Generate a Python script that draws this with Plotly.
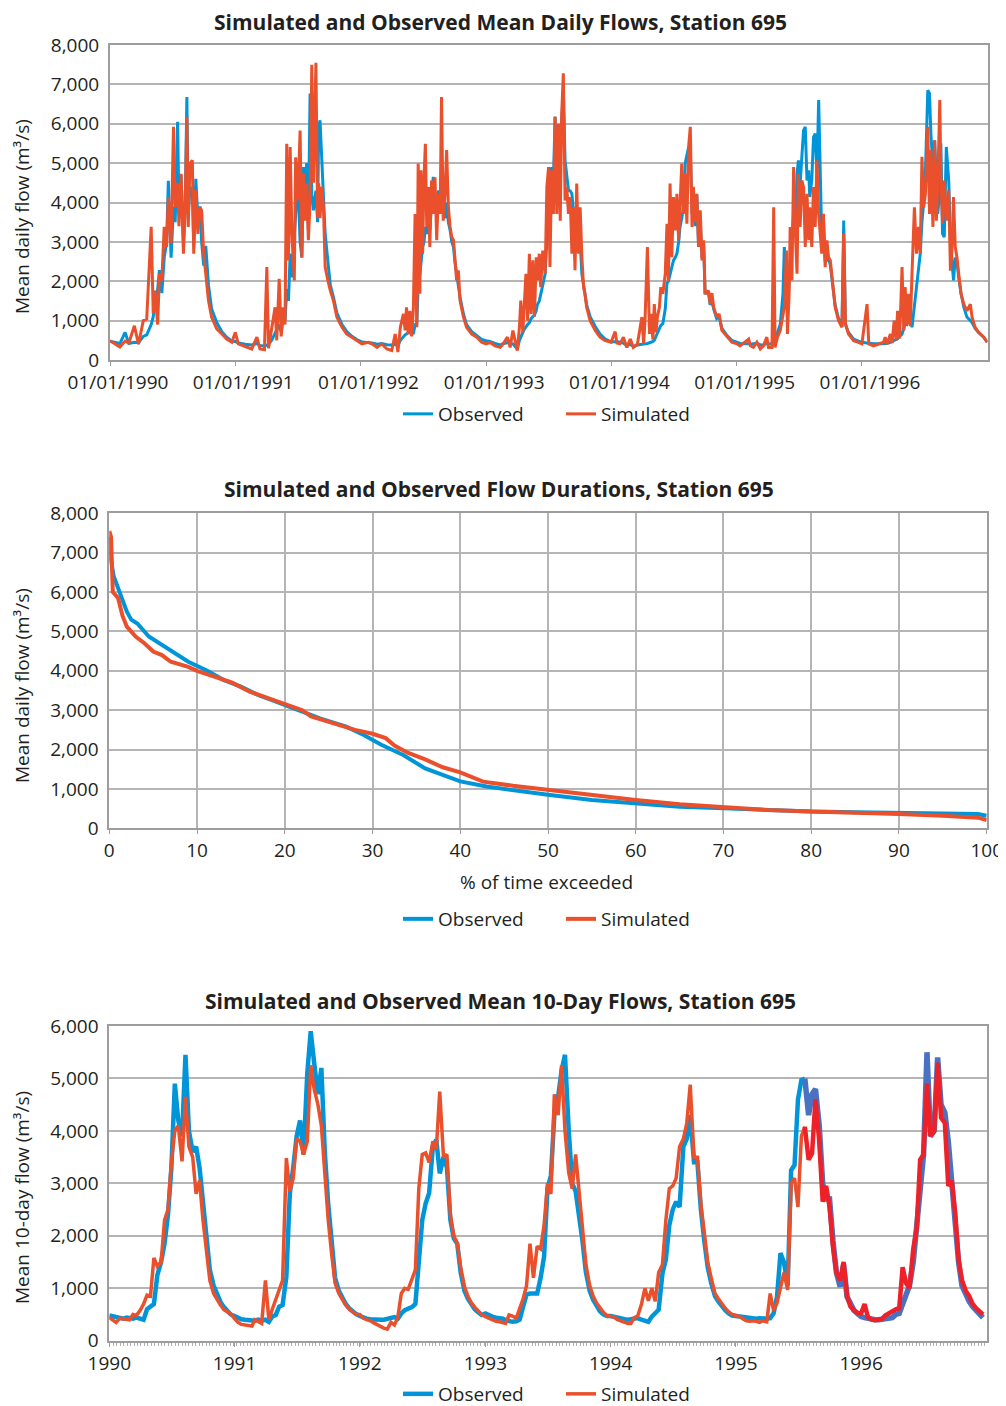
import pandas as pd
import plotly.graph_objects as go

OFF = 8                     # the page body margin shifts the figure by 8 px
W, H = 1006 - OFF, 1406 - OFF
BLUE = "#0095D9"
ORANGE = "#E9502B"
DARKBLUE = "#4A72C0"
RED = "#EE2128"
GRID = "#b5b5b5"
FRAME = "#9d9d9d"
TXT = "#231f20"
FONT = "Open Sans"

# ---------------- Panel 1: mean daily flows (day offset from 1990-01-01) ----------------
daily_day = [
    0, 15, 29, 44, 55, 71, 83, 97, 107, 120, 126, 131, 139, 144, 151, 158, 165, 170, 178, 185,
    190, 197, 201, 207, 214, 219, 224, 228, 233, 240, 244, 250, 256, 262, 267, 273, 279, 287, 296, 311,
    326, 340, 355,
    365, 374, 394, 413, 428, 437, 450, 457, 462, 471, 481, 486, 493, 499, 505, 510, 515, 520, 525, 530,
    537, 541, 547, 554, 559, 564, 569, 573, 578, 583, 588, 593, 600, 605, 608, 612, 617, 622, 627, 635,
    642, 651, 661, 676, 690, 705, 719,
    734, 753, 763, 778, 792, 807, 821, 831, 839, 846, 855, 860, 864, 869, 874, 879, 884, 889, 894, 898,
    903, 906, 911, 915, 919, 923, 928, 932, 937, 942, 947, 952, 957, 962, 966, 971, 976, 981, 986, 991,
    996, 1001, 1005, 1010, 1015, 1020, 1030, 1039, 1054, 1069, 1083,
    1096, 1107, 1122, 1137, 1146, 1158, 1166, 1174, 1180, 1187, 1193, 1197, 1203, 1207, 1212, 1217, 1222,
    1227, 1232, 1237, 1242, 1245, 1251, 1255, 1261, 1268, 1273, 1278, 1282, 1287, 1292, 1297, 1302, 1307,
    1312, 1316, 1321, 1326, 1331, 1336, 1341, 1346, 1350, 1355, 1360, 1365, 1370, 1375, 1380, 1384, 1389,
    1399, 1414, 1428, 1443,
    1460, 1472, 1477, 1486, 1496, 1506, 1516, 1525, 1537, 1550, 1555, 1559, 1566, 1572, 1576, 1582, 1586,
    1591, 1595, 1601, 1605, 1611, 1618, 1623, 1627, 1632, 1637, 1642, 1647, 1652, 1657, 1661, 1666, 1671,
    1676, 1681, 1686, 1691, 1696, 1700, 1705, 1710, 1715, 1720, 1725, 1730, 1734, 1744, 1749, 1754, 1759,
    1768, 1775, 1783, 1798, 1812,
    1827, 1836, 1861, 1866, 1875, 1885, 1895, 1904, 1914, 1919, 1929, 1934, 1938, 1945, 1953, 1961, 1965,
    1971, 1974, 1979, 1982, 1987, 1992, 1997, 2002, 2006, 2011, 2016, 2021, 2026, 2031, 2036, 2039, 2045,
    2050, 2055, 2060, 2065, 2070, 2074, 2079, 2084, 2089, 2094, 2099, 2107, 2113, 2123, 2133, 2138, 2143,
    2152, 2167, 2181,
    2191, 2206, 2211, 2225, 2240, 2254, 2259, 2264, 2274, 2279, 2285, 2291, 2295, 2301, 2308, 2313, 2317,
    2322, 2327, 2332, 2337, 2344, 2350, 2356, 2361, 2366, 2371, 2376, 2383, 2388, 2392, 2398, 2403, 2408,
    2412, 2418, 2421, 2426, 2431, 2437, 2444, 2449, 2453, 2458, 2463, 2468, 2473, 2480, 2488, 2497, 2507,
    2512, 2521, 2531, 2546, 2556,
]
daily_obs = [
    480, 450, 420, 700, 420, 450, 440, 600, 640, 900, 1100, 1500, 1800, 2280, 1700, 2600, 3000, 4550, 2600, 3900,
    3500, 6050, 3800, 4700, 3000, 3800, 6680, 3700, 4400, 4200, 2900, 4600, 3600, 3900, 3000, 2400, 2900, 1900, 1300, 950,
    720, 580, 480,
    470, 430, 400, 380, 420, 370, 350, 380, 400, 500, 700, 800, 900, 700, 1100, 1000, 1800, 1500, 2700, 2100,
    3100, 3500, 4600, 3000, 2600, 4900, 3600, 5000, 3300, 6770, 4200, 3800, 4300, 3500, 5900, 6090, 5000, 4000, 3200, 2500,
    1900, 1600, 1200, 900, 720, 600, 520,
    460, 450, 430, 400, 420, 390, 380, 400, 370, 500, 600, 640, 660, 700, 700, 720, 660, 900, 920, 1900,
    2190, 2500, 2870, 3000, 3380, 3200, 3630, 3300, 4000, 4650, 4050, 3800, 4300, 4200, 4000, 4220, 3600, 4000, 3500, 3300,
    3000, 2870, 2500, 2190, 1900, 1590, 1170, 900, 720, 620, 520,
    490, 470, 420, 380, 420, 440, 420, 410, 350, 280, 500, 600, 700, 780, 850, 900, 950,
    1050, 1100, 1150, 1250, 1400, 1500, 1700, 1900, 2190, 3040, 4140, 4500, 4900, 4500, 6180, 4310, 5000,
    5330, 6000, 6850, 5070, 4700, 4310, 4300, 4220, 3800, 3600, 3380, 3200, 3040, 2190, 1900, 1700, 1400,
    1100, 850, 660, 530,
    460, 480, 470, 450, 430, 360, 400, 340, 380, 400, 400, 410, 420, 430, 450, 470, 500,
    600, 700, 800, 880, 920, 1300, 1950, 2000, 2190, 2400, 2530, 2600, 2700, 3000, 3380, 3600, 3880,
    4990, 5240, 5400, 5300, 3700, 4000, 3400, 4200, 2900, 3500, 2600, 2900, 1700, 1700, 1400, 1500, 1300,
    1050, 1100, 800, 620, 500,
    450, 420, 410, 400, 410, 420, 390, 380, 420, 400, 420, 430, 450, 700, 900, 1680, 2870,
    1950, 1300, 2000, 2200, 3040, 3710, 3300, 4730, 5070, 4480, 5160, 5830, 5920, 4560, 4820, 4140, 4560,
    5660, 5750, 4730, 6600, 4560, 3100, 3500, 2500, 2530, 2600, 2400, 1900, 1400, 1050, 850, 3540, 900,
    700, 530, 480,
    450, 430, 420, 410, 410, 410, 420, 420, 450, 470, 500, 520, 540, 600, 660, 800, 920,
    900, 1000, 1100, 830, 1340, 1800, 2190, 2700, 3500, 4000, 4730, 6850, 6770, 5750, 4900, 5580, 4560,
    3710, 4300, 5500, 3210, 3120, 5410, 4560, 3000, 2610, 2020, 2600, 2500, 2100, 1680, 1340, 1090, 1000,
    950, 800, 700, 580, 450,
]
daily_sim = [
    490, 410, 330, 480, 430, 870, 400, 1000, 1040, 3380, 1170, 1760, 900, 2190, 2020, 3380, 2870, 4140, 2960, 5920,
    3880, 4500, 3400, 4730, 2700, 3880, 6180, 3380, 4990, 5070, 2700, 4310, 3200, 3880, 3800, 2700, 2190, 1510, 1090, 790,
    660, 530, 450,
    700, 410, 340, 280, 580, 280, 260, 2360, 300, 750, 1340, 500, 2060, 600, 1340, 900, 5490, 2530, 5410, 3210,
    2020, 5150, 4050, 5830, 2610, 4730, 3540, 4490, 3040, 4000, 7500, 4500, 7550, 3600, 4490, 3600, 4400, 3880, 2360, 2020,
    1760, 1510, 1090, 830, 660, 580, 490,
    410, 450, 410, 320, 410, 280, 240, 660, 200, 830, 1170, 750, 1340, 650, 1250, 600, 1300, 3710, 830, 4990,
    1680, 4820, 2700, 4640, 5490, 3380, 4390, 2870, 4560, 3710, 4640, 3040, 4220, 3710, 6680, 3540, 4200, 5330, 3880, 3380,
    3120, 3040, 2610, 2020, 2280, 1510, 1090, 830, 660, 580, 450,
    410, 450, 360, 320, 410, 580, 320, 750, 490, 240, 830, 1510, 700, 1340, 2190, 1000, 2700,
    1170, 2530, 1100, 2610, 2020, 2700, 1850, 2780, 2190, 4390, 4900, 2360, 4820, 3710, 6180, 3710, 6000,
    3540, 6180, 7280, 4050, 4390, 3710, 4140, 2700, 3880, 2280, 4480, 2700, 3880, 2610, 1850, 1680, 1340,
    1000, 750, 580, 490,
    450, 720, 430, 410, 580, 320, 530, 320, 410, 1090, 420, 1000, 2870, 660, 1170, 520, 1420,
    700, 1090, 1340, 1850, 1680, 2190, 3460, 2000, 4480, 2610, 4140, 3290, 4220, 3040, 4050, 4990, 3710,
    4730, 3460, 5410, 5920, 3380, 4400, 3500, 4220, 2870, 3800, 2530, 3040, 1680, 1760, 1420, 1700, 1340,
    1090, 1170, 750, 580, 450,
    410, 360, 530, 360, 320, 450, 280, 360, 580, 320, 320, 3880, 320, 580, 750, 1170, 1340,
    2780, 660, 1680, 3380, 2020, 4900, 3290, 2190, 4730, 3380, 4560, 4390, 2870, 4220, 3040, 3880, 2870,
    4390, 3380, 5070, 3710, 3120, 2700, 3710, 2360, 3040, 2600, 2530, 1850, 1340, 1000, 830, 3210, 920,
    660, 490, 450,
    410, 1420, 410, 360, 410, 450, 580, 400, 660, 430, 1000, 500, 1250, 550, 2360, 750, 1850,
    900, 1680, 860, 2190, 3880, 2700, 3380, 2700, 5160, 3880, 4220, 5920, 3710, 5330, 3380, 5580, 3540,
    4400, 6600, 4730, 3460, 4560, 3540, 4310, 2270, 2700, 4140, 2870, 2610, 2190, 1680, 1420, 1250, 1420,
    1090, 830, 700, 580, 450,
]
daily_ticks = ["01/01/1990", "01/01/1991", "01/01/1992", "01/01/1993",
               "01/01/1994", "01/01/1995", "01/01/1996"]

# ---------------- Panel 2: flow duration curves ----------------
fdc_obs_pct = [0, 0.2, 0.5, 1, 1.5, 2, 2.5, 3.2, 4.5, 6, 7.5, 9, 11, 13, 15, 17, 19, 21, 24, 27,
               29, 31, 33.5, 36, 38, 40, 43, 46, 50, 55, 60, 65, 70, 75, 80, 85, 90, 95, 99, 100]
fdc_obs = [7400, 6800, 6400, 6100, 5800, 5500, 5300, 5200, 4870, 4660, 4450, 4230, 4020, 3770, 3600,
           3380, 3220, 3050, 2790, 2580, 2370, 2120, 1860, 1520, 1350, 1190, 1060, 960, 850, 720,
           635, 550, 510, 465, 425, 410, 400, 380, 365, 320]
fdc_sim_pct = [0, 0.2, 0.4, 1, 1.5, 2, 3, 4, 5, 6, 7, 8, 9, 10, 12, 14, 16, 18, 20, 22, 23, 26, 28,
               30, 31.5, 32.5, 34, 36, 38, 40, 42.6, 46, 50, 55, 60, 65, 70, 75, 80, 85, 90, 95, 98, 99, 100]
fdc_sim = [7550, 7400, 6000, 5850, 5400, 5120, 4870, 4700, 4490, 4400, 4230, 4170, 4100, 4000, 3850,
           3700, 3470, 3320, 3170, 3000, 2840, 2650, 2500, 2400, 2290, 2100, 1920, 1750, 1550, 1420,
           1185, 1080, 975, 850, 720, 610, 530, 465, 425, 400, 365, 320, 295, 270, 210]

# ---------------- Panel 3: mean 10-day flows (dekads starting 1st, 11th, 21st) ----------------
obs10_1990 = [480, 460, 440, 430, 420, 440, 430, 420, 440, 420, 400, 600, 650, 700, 1250, 1500, 1850, 2400,
              3300, 4900, 4200, 3900, 5450, 4000, 3600, 3700, 3300, 2700, 1950, 1350, 1050, 880, 740, 640, 560, 500]
obs10_1991 = [470, 430, 410, 400, 390, 380, 380, 400, 380, 400, 360, 460, 490, 650, 680, 1220, 2800, 3300,
              3900, 4200, 3550, 5100, 5900, 5300, 4700, 5200, 3600, 2600, 1850, 1200, 950, 820, 700, 620, 560, 510]
obs10_1992 = [470, 440, 420, 410, 400, 390, 400, 400, 420, 440, 450, 420, 520, 580, 600, 640, 700, 1540,
              2300, 2620, 2810, 3700, 3830, 3190, 3500, 3300, 2300, 1950, 1850, 1300, 950, 800, 680, 600, 540, 490]
obs10_1993 = [520, 480, 460, 440, 430, 420, 390, 370, 360, 370, 400, 650, 880, 900, 900, 900, 1200, 1600,
              2900, 3150, 4300, 4650, 5150, 5450, 4000, 3000, 2850, 2400, 1900, 1300, 950, 780, 650, 560, 500, 470]
obs10_1994 = [470, 450, 430, 420, 410, 400, 410, 430, 430, 400, 380, 360, 460, 520, 590, 1280, 1550, 2200,
              2500, 2650, 2550, 3700, 3850, 4300, 3400, 3400, 2500, 1900, 1400, 1100, 850, 750, 650, 580, 520, 480]
obs10_1995 = [470, 460, 450, 440, 430, 420, 420, 430, 420, 420, 430, 520, 840, 1670, 1500, 1050, 3250, 3350,
              4600, 4970, 5000, 4300, 4700, 4800, 4100, 3000, 2700, 2700, 1900, 1300, 1030, 1450, 840, 680, 580, 520]
obs10_1996 = [460, 440, 420, 400, 400, 400, 410, 420, 430, 440, 500, 520, 700, 850, 1050, 1500, 2200, 3000,
              3550, 5500, 3900, 4000, 5400, 4500, 4350, 3800, 3000, 2500, 1500, 1050, 880, 750, 650, 580, 500, 440]

sim10_1990 = [440, 390, 350, 430, 420, 400, 400, 500, 480, 580, 700, 870, 850, 1580, 1420, 1500, 2300, 2500,
              3400, 4000, 4100, 3420, 4650, 3700, 3500, 2800, 3050, 2300, 1700, 1150, 900, 780, 680, 590, 540, 510]
sim10_1991 = [420, 350, 310, 300, 290, 280, 400, 360, 330, 1150, 400, 600, 800, 980, 1150, 3480, 2850, 3100,
              3850, 3800, 3550, 3800, 5250, 4800, 4500, 4100, 3200, 2300, 1650, 1100, 900, 780, 680, 600, 540, 500]
sim10_1992 = [500, 430, 400, 380, 340, 300, 270, 240, 220, 350, 300, 450, 900, 1000, 980, 1200, 1350, 2900,
              3550, 3580, 3400, 3800, 3650, 4750, 3500, 3550, 2400, 2000, 1860, 1400, 1030, 850, 720, 640, 560, 500]
sim10_1993 = [460, 430, 395, 370, 360, 340, 330, 490, 470, 430, 600, 800, 1050, 1850, 1200, 1800, 1750, 2200,
              3000, 2800, 4700, 4300, 5250, 4000, 3200, 2900, 3550, 2900, 2100, 1450, 1050, 850, 720, 620, 540, 480]
sim10_1994 = [470, 450, 400, 370, 350, 330, 330, 440, 470, 700, 1000, 760, 1000, 750, 1300, 1450, 2300, 2900,
              2950, 3100, 3700, 3850, 4150, 4880, 3500, 3500, 2600, 2050, 1500, 1200, 900, 800, 700, 620, 550, 500]
sim10_1995 = [480, 460, 420, 380, 370, 380, 370, 350, 380, 360, 900, 580, 720, 1000, 1300, 970, 3000, 3100,
              2550, 3900, 4080, 3450, 3570, 4600, 3800, 2650, 2950, 2550, 1800, 1300, 1150, 1500, 850, 650, 580, 530]
sim10_1996 = [520, 700, 450, 400, 390, 400, 410, 480, 520, 580, 600, 620, 1400, 1100, 1000, 1750, 2150, 3450,
              3550, 4900, 3900, 4000, 5300, 4250, 4150, 2950, 3050, 2450, 1550, 1150, 950, 850, 700, 620, 560, 500]

dekad_years = [1990, 1991, 1992, 1993, 1994, 1995, 1996]
dekad_days = [1, 11, 21]

# ---------------- build series ----------------
start = pd.Timestamp("1990-01-01")
daily_dates = [start + pd.Timedelta(days=d) for d in daily_day]

obs10 = obs10_1990 + obs10_1991 + obs10_1992 + obs10_1993 + obs10_1994 + obs10_1995 + obs10_1996
sim10 = sim10_1990 + sim10_1991 + sim10_1992 + sim10_1993 + sim10_1994 + sim10_1995 + sim10_1996
dekad_dates = [pd.Timestamp(year=y, month=m, day=d)
               for y in dekad_years for m in range(1, 13) for d in dekad_days]
SPLIT = 5 * 36 + 20   # colour change at 21 Jul 1995


def px(p):
    return (p - OFF) / W


def py(p):
    return 1 - (p - OFF) / H


fig = go.Figure()

# Panel 1
fig.add_trace(go.Scatter(x=daily_dates, y=daily_obs, mode="lines", name="Observed",
                         line=dict(color=BLUE, width=3), xaxis="x", yaxis="y", legend="legend"))
fig.add_trace(go.Scatter(x=daily_dates, y=daily_sim, mode="lines", name="Simulated",
                         line=dict(color=ORANGE, width=3), xaxis="x", yaxis="y", legend="legend"))
# Panel 2
fig.add_trace(go.Scatter(x=fdc_obs_pct, y=fdc_obs, mode="lines", name="Observed",
                         line=dict(color=BLUE, width=4), xaxis="x2", yaxis="y2", legend="legend2"))
fig.add_trace(go.Scatter(x=fdc_sim_pct, y=fdc_sim, mode="lines", name="Simulated",
                         line=dict(color=ORANGE, width=4), xaxis="x2", yaxis="y2", legend="legend2"))
# Panel 3
fig.add_trace(go.Scatter(x=dekad_dates[:SPLIT + 1], y=obs10[:SPLIT + 1], mode="lines", name="Observed",
                         line=dict(color=BLUE, width=4.5), xaxis="x3", yaxis="y3", legend="legend3"))
fig.add_trace(go.Scatter(x=dekad_dates[SPLIT:], y=obs10[SPLIT:], mode="lines", name="Observed",
                         line=dict(color=DARKBLUE, width=5.5), xaxis="x3", yaxis="y3",
                         showlegend=False))
fig.add_trace(go.Scatter(x=dekad_dates[:SPLIT + 1], y=sim10[:SPLIT + 1], mode="lines", name="Simulated",
                         line=dict(color=ORANGE, width=3.5), xaxis="x3", yaxis="y3", legend="legend3"))
fig.add_trace(go.Scatter(x=dekad_dates[SPLIT:], y=sim10[SPLIT:], mode="lines", name="Simulated",
                         line=dict(color=RED, width=4.5), xaxis="x3", yaxis="y3",
                         showlegend=False))

axis_common = dict(showline=True, linecolor=FRAME, linewidth=2, mirror=True, automargin=False,
                   tickfont=dict(family=FONT, size=19, color=TXT), zeroline=False,
                   ticklabeloverflow="allow")
y_common = dict(axis_common, showgrid=True, gridcolor=GRID, gridwidth=1.5, tickformat=",",
                ticks="", dtick=1000, ticklabelstandoff=5)

year_ticks = [pd.Timestamp(year=y, month=1, day=1) for y in dekad_years]

legend_common = dict(orientation="h", xanchor="left", x=px(398), yanchor="middle",
                     font=dict(family=FONT, size=19, color=TXT), bgcolor="rgba(0,0,0,0)",
                     entrywidth=118, itemwidth=30)

fig.update_layout(
    template="none",
    width=W, height=H, margin=dict(l=0, r=0, t=0, b=0, autoexpand=False),
    paper_bgcolor="white", plot_bgcolor="white",
    font=dict(family=FONT, size=19, color=TXT),
    xaxis=dict(axis_common, type="date", domain=[px(110), px(987.5)], anchor="y",
               range=["1990-01-01", "1997-01-01"], tickvals=year_ticks, ticktext=daily_ticks,
               showgrid=False, ticks="outside", ticklen=4, tickcolor=FRAME, ticklabelshift=8),
    yaxis=dict(y_common, domain=[py(360), py(45)], anchor="x", range=[0, 8000]),
    xaxis2=dict(axis_common, domain=[px(109.3), px(986.7)], anchor="y2", range=[0, 100], dtick=10,
                showgrid=True, gridcolor=GRID, gridwidth=1.5, ticks="outside", ticklen=4, tickcolor=FRAME),
    yaxis2=dict(y_common, domain=[py(828.3), py(513.3)], anchor="x2", range=[0, 8000]),
    xaxis3=dict(axis_common, type="date", domain=[px(109.3), px(986.7)], anchor="y3",
                range=["1990-01-01", "1997-01-01"], tickvals=year_ticks, tickformat="%Y",
                showgrid=False, ticks="outside", ticklen=4, tickcolor=FRAME,
                minor=dict(ticks="outside", ticklen=3, tickcolor="#b0b0b0",
                           dtick=10 * 86400000, showgrid=False)),
    yaxis3=dict(y_common, domain=[py(1340.7), py(1026)], anchor="x3", range=[0, 6000]),
    legend=dict(legend_common, y=py(414)),
    legend2=dict(legend_common, y=py(919)),
    legend3=dict(legend_common, y=py(1394)),
    showlegend=True,
)


def title(text, cx, cy):
    fig.add_annotation(text=f"<b>{text}</b>", x=px(cx), y=py(cy), xref="paper", yref="paper",
                       showarrow=False, xanchor="center", yanchor="middle",
                       font=dict(family=FONT, size=21, color=TXT))


def ytitle(text, cy):
    fig.add_annotation(text=text, x=px(22), y=py(cy), xref="paper", yref="paper",
                       showarrow=False, xanchor="center", yanchor="middle", textangle=-90,
                       font=dict(family=FONT, size=19, color=TXT))


title("Simulated and Observed Mean Daily Flows, Station 695", 500.5, 22)
title("Simulated and Observed Flow Durations, Station 695", 498.5, 489)
title("Simulated and Observed Mean 10-Day Flows, Station 695", 500, 1001)
ytitle("Mean daily flow (m³/s)", 217)
ytitle("Mean daily flow (m³/s)", 686)
ytitle("Mean 10-day flow (m³/s)", 1198)
fig.add_annotation(text="% of time exceeded", x=px(546), y=py(882), xref="paper", yref="paper",
                   showarrow=False, xanchor="center", yanchor="middle",
                   font=dict(family=FONT, size=19, color=TXT))

fig.write_html("out.html")
